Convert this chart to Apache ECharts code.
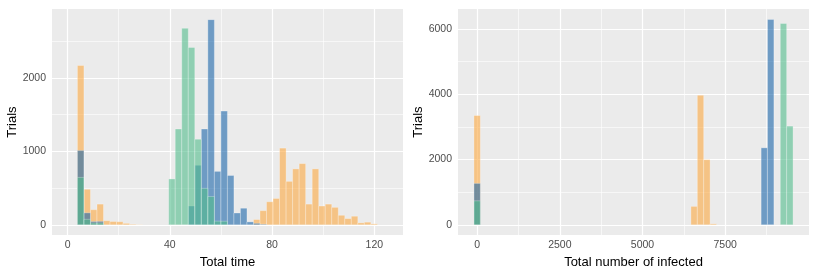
<!DOCTYPE html>
<html>
<head>
<meta charset="utf-8">
<script src="https://cdn.jsdelivr.net/npm/echarts@6/dist/echarts.min.js"></script>
<style>
html,body{margin:0;padding:0;background:#fff;}
#chart{width:819px;height:274px;}
</style>
</head>
<body>
<div id="chart"></div>
<script>
// ---------- DATA ----------
// Left panel: "Total time" histogram, bins start at timeBinStart with width timeBinWidth
const timeBinStart = 3.84;
const timeBinWidth = 2.551;
const timeOrange = [2170, 484, 206, 282, 56, 45, 42, 20, 8, 3,
  0, 0, 0, 0, 0, 0, 0, 0, 0, 0,
  0, 0, 0, 0, 0, 0, 0, 72, 193, 314,
  359, 1045, 592, 762, 834, 282, 762, 256, 282, 238,
  130, 85, 117, 27, 36, 13];
const timeBlue = [1013, 163, 45, 47, 0, 0, 0, 0, 0, 0,
  0, 0, 0, 0, 0, 0, 0, 256, 811, 1305,
  2795, 728, 1550, 672, 161, 226, 40, 20, 8, 0,
  0, 0, 0, 0, 0, 0, 0, 0, 0, 0,
  0, 0, 0, 0, 0, 0];
const timeGreen = [646, 75, 25, 25, 0, 0, 0, 0, 0, 0,
  0, 0, 0, 0, 625, 1305, 2677, 2417, 1166, 497,
  386, 50, 49, 0, 0, 0, 0, 0, 0, 0,
  0, 0, 0, 0, 0, 0, 0, 0, 0, 0,
  0, 0, 0, 0, 0, 0];

// Right panel: "Total number of infected" histogram, 50 bins centred on 0 .. 9457
const infBinStart = -96.5;
const infBinWidth = 193;
const infOrange = {0: 3350, 34: 565, 35: 3973, 36: 1997, 37: 30};
const infBlue = {0: 1270, 45: 2360, 46: 6292};
const infGreen = {0: 736, 48: 6171, 49: 3025};
const infBinCount = 50;

// Axis ticks
const timeTicks = [0, 40, 80, 120];
const timeMinor = [20, 60, 100];
const timeYTicks = [0, 1000, 2000];
const timeYMinor = [500, 1500, 2500];
const infTicks = [0, 2500, 5000, 7500];
const infMinor = [1250, 3750, 6250, 8750];
const infYTicks = [0, 2000, 4000, 6000];
const infYMinor = [1000, 3000, 5000];

const xTitleLeft = 'Total time';
const xTitleRight = 'Total number of infected';
const yTitle = 'Trials';

// ---------- BUILD ----------
const colors = {
  orange: 'rgba(252,168,65,0.6)',
  blue: 'rgba(27,102,170,0.6)',
  green: 'rgba(82,188,140,0.6)'
};

function binsFromArray(arr, start, width) {
  return arr.map((v, i) => [start + i * width, start + (i + 1) * width, v]);
}
function binsFromMap(map, n, start, width) {
  const out = [];
  for (let i = 0; i < n; i++) out.push([start + i * width, start + (i + 1) * width, map[i] || 0]);
  return out;
}

function makeRender(color) {
  return function (params, api) {
    const v = api.value(2);
    if (!v) return;
    const p0 = api.coord([api.value(0), v]);
    const p1 = api.coord([api.value(1), 0]);
    return {
      type: 'rect',
      shape: { x: p0[0], y: p0[1], width: p1[0] - p0[0], height: p1[1] - p0[1] },
      style: { fill: color, stroke: 'rgba(255,255,255,0.55)', lineWidth: 0.5 }
    };
  };
}

function gridLines(xMajor, xMinor, yMajor, yMinor) {
  const major = { color: '#ffffff', width: 1.2, type: 'solid' };
  const minor = { color: '#ffffff', width: 0.6, type: 'solid' };
  const data = [];
  xMinor.forEach(v => data.push({ xAxis: v, lineStyle: minor }));
  yMinor.forEach(v => data.push({ yAxis: v, lineStyle: minor }));
  xMajor.forEach(v => data.push({ xAxis: v, lineStyle: major }));
  yMajor.forEach(v => data.push({ yAxis: v, lineStyle: major }));
  return {
    silent: true, symbol: ['none', 'none'], label: { show: false },
    animation: false, z: 1, data: data
  };
}

const font = 'Liberation Sans, Arial, Helvetica, sans-serif';
const tickLabel = { color: '#4D4D4D', fontSize: 10.5, fontFamily: font };
const nameStyle = { color: '#000000', fontSize: 13, fontFamily: font };

function xAxis(gridIndex, min, max, ticks, name) {
  return {
    type: 'value', gridIndex, min, max, name, nameLocation: 'middle', nameGap: 20,
    nameTextStyle: nameStyle,
    axisLine: { show: false },
    axisTick: { show: true, length: 3, lineStyle: { color: '#333333', width: 1 }, customValues: ticks },
    axisLabel: Object.assign({ margin: 5, customValues: ticks, formatter: v => String(v) }, tickLabel),
    splitLine: { show: false }, minorSplitLine: { show: false }
  };
}
function yAxis(gridIndex, min, max, ticks, name, gap) {
  return {
    type: 'value', gridIndex, min, max, name, nameLocation: 'middle', nameGap: gap,
    nameTextStyle: nameStyle,
    axisLine: { show: false },
    axisTick: { show: true, length: 3, lineStyle: { color: '#333333', width: 1 }, customValues: ticks },
    axisLabel: Object.assign({ margin: 6, customValues: ticks, formatter: v => String(v) }, tickLabel),
    splitLine: { show: false }, minorSplitLine: { show: false }
  };
}

function series(xi, data, color, withGrid) {
  const s = {
    type: 'custom', xAxisIndex: xi, yAxisIndex: xi, renderItem: makeRender(color),
    data: data, encode: { x: [0, 1], y: 2 }, clip: true, z: 2, silent: true, animation: false
  };
  if (withGrid) s.markLine = withGrid;
  return s;
}

const option = {
  animation: false,
  backgroundColor: '#ffffff',
  grid: [
    { left: 52, top: 9, width: 351, height: 230, show: true, backgroundColor: '#EBEBEB', borderWidth: 0 },
    { left: 458, top: 9, width: 351, height: 230, show: true, backgroundColor: '#EBEBEB', borderWidth: 0 }
  ],
  xAxis: [
    xAxis(0, -6.1, 131.2, timeTicks, xTitleLeft),
    xAxis(1, -579, 10036, infTicks, xTitleRight)
  ],
  yAxis: [
    yAxis(0, -140, 2940, timeYTicks, yTitle, 30),
    yAxis(1, -315, 6615, infYTicks, yTitle, 30)
  ],
  series: [
    series(0, binsFromArray(timeOrange, timeBinStart, timeBinWidth), colors.orange,
      gridLines(timeTicks, timeMinor, timeYTicks, timeYMinor)),
    series(0, binsFromArray(timeBlue, timeBinStart, timeBinWidth), colors.blue),
    series(0, binsFromArray(timeGreen, timeBinStart, timeBinWidth), colors.green),
    series(1, binsFromMap(infOrange, infBinCount, infBinStart, infBinWidth), colors.orange,
      gridLines(infTicks, infMinor, infYTicks, infYMinor)),
    series(1, binsFromMap(infBlue, infBinCount, infBinStart, infBinWidth), colors.blue),
    series(1, binsFromMap(infGreen, infBinCount, infBinStart, infBinWidth), colors.green)
  ]
};

const chart = echarts.init(document.getElementById('chart'), null, { renderer: 'canvas' });
chart.setOption(option);
</script>
</body>
</html>
